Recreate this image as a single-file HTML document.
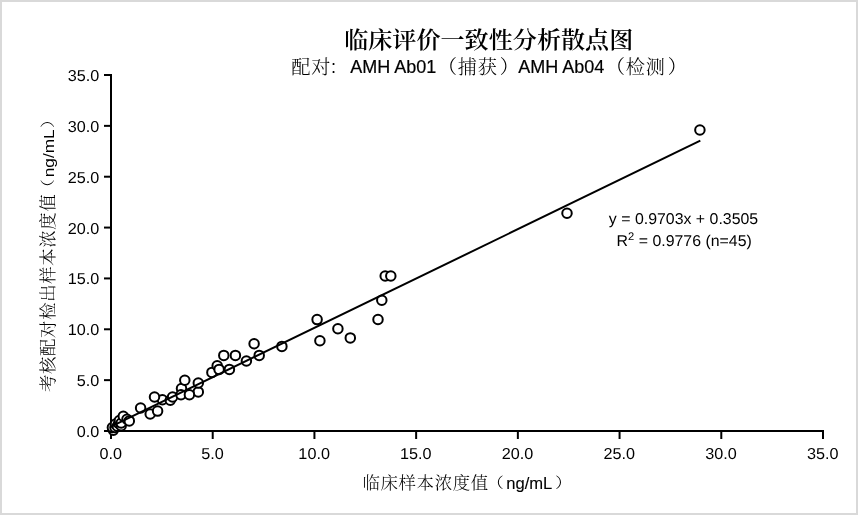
<!DOCTYPE html>
<html lang="zh-CN">
<head>
<meta charset="utf-8">
<title>临床评价一致性分析散点图</title>
<style>
html,body{margin:0;padding:0;background:#fff;}
body{width:858px;height:515px;overflow:hidden;}
svg{display:block;}
</style>
</head>
<body>
<svg width="858" height="515" viewBox="0 0 858 515">
<rect x="0" y="0" width="858" height="515" fill="#fff"/>
<rect x="1" y="1" width="856" height="513" fill="none" stroke="#d9d9d9" stroke-width="2"/>
<g stroke="#000" stroke-width="2" fill="none" stroke-linecap="butt">
<path d="M111 74 V432"/>
<path d="M110 431 H824"/>
<path d="M104 431.00 H111"/>
<path d="M111.00 431 V439"/>
<path d="M104 380.14 H111"/>
<path d="M212.71 431 V439"/>
<path d="M104 329.29 H111"/>
<path d="M314.43 431 V439"/>
<path d="M104 278.43 H111"/>
<path d="M416.14 431 V439"/>
<path d="M104 227.57 H111"/>
<path d="M517.86 431 V439"/>
<path d="M104 176.71 H111"/>
<path d="M619.57 431 V439"/>
<path d="M104 125.86 H111"/>
<path d="M721.29 431 V439"/>
<path d="M104 75.00 H111"/>
<path d="M823.00 431 V439"/>
</g>
<g font-family="'Liberation Sans', sans-serif" font-size="15.8" fill="#000" text-rendering="geometricPrecision">
<text transform="translate(99.3 437.00) scale(1.025 1)" text-anchor="end">0.0</text>
<text transform="translate(99.3 386.14) scale(1.025 1)" text-anchor="end">5.0</text>
<text transform="translate(99.3 335.29) scale(1.025 1)" text-anchor="end">10.0</text>
<text transform="translate(99.3 284.43) scale(1.025 1)" text-anchor="end">15.0</text>
<text transform="translate(99.3 233.57) scale(1.025 1)" text-anchor="end">20.0</text>
<text transform="translate(99.3 182.71) scale(1.025 1)" text-anchor="end">25.0</text>
<text transform="translate(99.3 131.86) scale(1.025 1)" text-anchor="end">30.0</text>
<text transform="translate(99.3 81.00) scale(1.025 1)" text-anchor="end">35.0</text>
<text transform="translate(110.70 458.9) scale(1.025 1)" text-anchor="middle">0.0</text>
<text transform="translate(212.41 458.9) scale(1.025 1)" text-anchor="middle">5.0</text>
<text transform="translate(314.13 458.9) scale(1.025 1)" text-anchor="middle">10.0</text>
<text transform="translate(415.84 458.9) scale(1.025 1)" text-anchor="middle">15.0</text>
<text transform="translate(517.56 458.9) scale(1.025 1)" text-anchor="middle">20.0</text>
<text transform="translate(619.27 458.9) scale(1.025 1)" text-anchor="middle">25.0</text>
<text transform="translate(720.99 458.9) scale(1.025 1)" text-anchor="middle">30.0</text>
<text transform="translate(822.70 458.9) scale(1.025 1)" text-anchor="middle">35.0</text>
</g>
<g stroke="#000" stroke-width="2" fill="#fff">
<circle cx="113.3" cy="430.2" r="4.75"/>
<circle cx="112.4" cy="427.6" r="4.75"/>
<circle cx="115.0" cy="427.5" r="4.75"/>
<circle cx="115.5" cy="424.0" r="4.75"/>
<circle cx="117.3" cy="426.2" r="4.75"/>
<circle cx="118.7" cy="423.4" r="4.75"/>
<circle cx="119.4" cy="420.6" r="4.75"/>
<circle cx="121.2" cy="425.7" r="4.75"/>
<circle cx="121.2" cy="423.0" r="4.75"/>
<circle cx="123.3" cy="416.2" r="4.75"/>
<circle cx="127.0" cy="419.3" r="4.75"/>
<circle cx="129.3" cy="420.9" r="4.75"/>
<circle cx="140.6" cy="408.0" r="4.75"/>
<circle cx="150.2" cy="414.0" r="4.75"/>
<circle cx="157.6" cy="411.1" r="4.75"/>
<circle cx="162.4" cy="399.8" r="4.75"/>
<circle cx="154.5" cy="397.0" r="4.75"/>
<circle cx="170.3" cy="400.3" r="4.75"/>
<circle cx="172.6" cy="397.0" r="4.75"/>
<circle cx="181.5" cy="388.6" r="4.75"/>
<circle cx="181.0" cy="394.7" r="4.75"/>
<circle cx="184.8" cy="380.3" r="4.75"/>
<circle cx="198.3" cy="391.9" r="4.75"/>
<circle cx="189.4" cy="394.7" r="4.75"/>
<circle cx="198.3" cy="383.0" r="4.75"/>
<circle cx="211.9" cy="372.4" r="4.75"/>
<circle cx="217.2" cy="365.7" r="4.75"/>
<circle cx="219.1" cy="369.4" r="4.75"/>
<circle cx="223.8" cy="355.4" r="4.75"/>
<circle cx="229.4" cy="369.4" r="4.75"/>
<circle cx="235.4" cy="355.4" r="4.75"/>
<circle cx="246.4" cy="361.0" r="4.75"/>
<circle cx="254.1" cy="343.8" r="4.75"/>
<circle cx="259.2" cy="355.4" r="4.75"/>
<circle cx="281.9" cy="346.4" r="4.75"/>
<circle cx="317.1" cy="319.6" r="4.75"/>
<circle cx="319.9" cy="340.8" r="4.75"/>
<circle cx="337.9" cy="328.7" r="4.75"/>
<circle cx="350.3" cy="337.9" r="4.75"/>
<circle cx="378.0" cy="319.5" r="4.75"/>
<circle cx="381.8" cy="300.2" r="4.75"/>
<circle cx="385.2" cy="276.0" r="4.75"/>
<circle cx="390.8" cy="276.0" r="4.75"/>
<circle cx="567.0" cy="213.3" r="4.75"/>
<circle cx="699.9" cy="130.0" r="4.75"/>
</g>
<path d="M112.5 425.83 L700.3 140.69" stroke="#000" stroke-width="2" fill="none"/>
<text transform="translate(488.7 47.6) scale(1 0.93)" text-anchor="middle" font-family="'Liberation Serif', 'Noto Serif CJK SC', serif" font-weight="600" font-size="24.1" fill="#000">临床评价一致性分析散点图</text>
<text y="72.7" font-family="'Liberation Sans', 'Noto Serif CJK SC', serif" font-weight="300" font-size="19.2" letter-spacing="0.8" fill="#000"><tspan x="291.2" dy="0.8">配对<tspan dx="-2">：</tspan></tspan><tspan x="350.3" dy="-0.8" font-weight="400" font-size="18" letter-spacing="0" stroke="#000" stroke-width="0.2">AMH Ab01</tspan><tspan x="437.7" dy="0.8">（捕获<tspan dx="2">）</tspan></tspan><tspan x="518.3" dy="-0.8" font-weight="400" font-size="18" letter-spacing="0" stroke="#000" stroke-width="0.2">AMH Ab04</tspan><tspan x="605.7" dy="0.8">（检测<tspan dx="2">）</tspan></tspan></text>
<text transform="translate(362.5 488.8)" font-family="'Liberation Sans', 'Noto Serif CJK SC', serif" font-weight="300" font-size="17.4" letter-spacing="0.65" fill="#000" x="0" y="0.2">临床样本浓度值</text><text transform="translate(362.5 488.8) translate(124.1 -1.0) scale(1 0.83)" font-family="'Noto Serif CJK SC', serif" font-weight="300" font-size="17.4" fill="#000">（</text><text transform="translate(362.5 488.8) translate(143.7 0) scale(1.0 1.0)" font-family="'Liberation Sans', sans-serif" font-size="16.6" fill="#000" stroke="#000" stroke-width="0.1">ng/mL</text><text transform="translate(362.5 488.8) translate(192.6 -1.0) scale(1 0.83)" font-family="'Noto Serif CJK SC', serif" font-weight="300" font-size="17.4" fill="#000">）</text>
<text transform="translate(54.0 392.0) rotate(-90)" font-family="'Liberation Sans', 'Noto Serif CJK SC', serif" font-weight="300" font-size="17.4" letter-spacing="0.65" fill="#000" x="0" y="0.2">考核配对检出样本浓度值</text><text transform="translate(54.0 392.0) rotate(-90) translate(195.5 -1.0) scale(1 0.83)" font-family="'Noto Serif CJK SC', serif" font-weight="300" font-size="17.4" fill="#000">（</text><text transform="translate(54.0 392.0) rotate(-90) translate(214.7 0) scale(1.065 0.93)" font-family="'Liberation Sans', sans-serif" font-size="16.2" fill="#000" stroke="#000" stroke-width="0">ng/mL</text><text transform="translate(54.0 392.0) rotate(-90) translate(264.0 -1.0) scale(1 0.83)" font-family="'Noto Serif CJK SC', serif" font-weight="300" font-size="17.4" fill="#000">）</text>
<g font-family="'Liberation Sans', sans-serif" font-size="15.7" fill="#000" text-anchor="middle" text-rendering="geometricPrecision">
<text transform="translate(683.5 224.2) scale(1.013 1)">y = 0.9703x + 0.3505</text>
<text transform="translate(684.2 245.7) scale(1.013 1)">R<tspan font-size="11" dy="-6">2</tspan><tspan dy="6"> = 0.9776 (n=45)</tspan></text>
</g>
</svg>
</body>
</html>
